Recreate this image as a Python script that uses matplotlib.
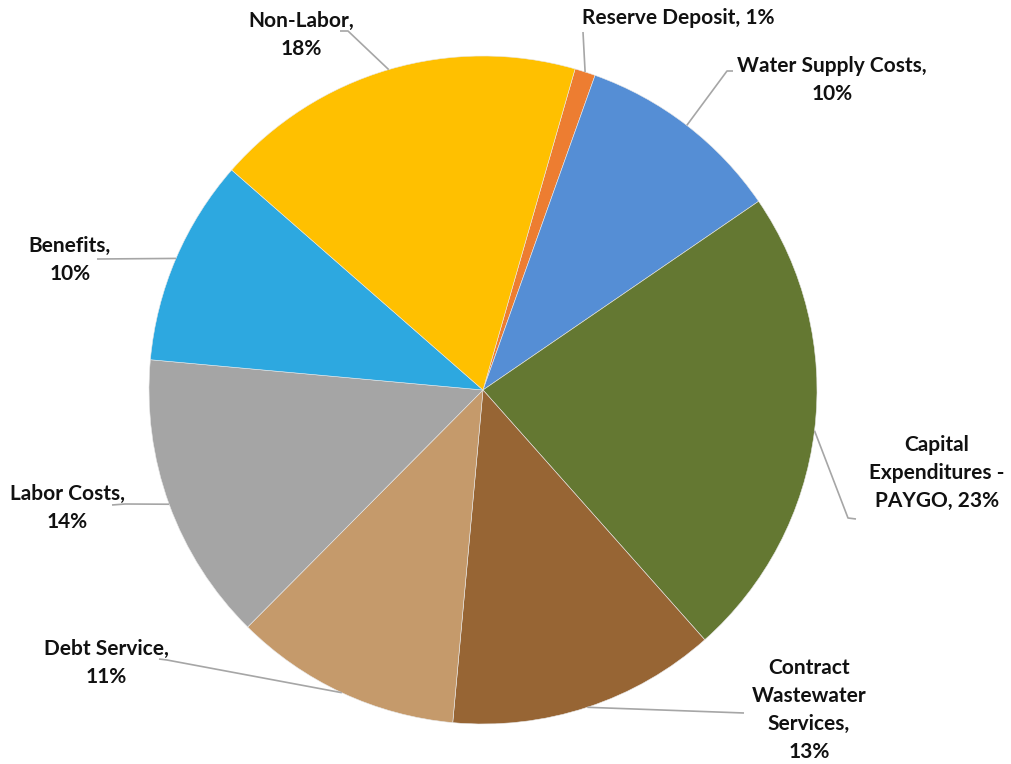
import numpy as np
import matplotlib
matplotlib.use('Agg')
import matplotlib.pyplot as plt

# Budget breakdown, slices listed clockwise from the top
categories = ['Reserve Deposit', 'Water Supply Costs', 'Capital Expenditures - PAYGO',
              'Contract Wastewater Services', 'Debt Service', 'Labor Costs',
              'Benefits', 'Non-Labor']
values = [1, 10, 23, 13, 11, 14, 10, 18]
colors = ['#ED7D31', '#558ED5', '#647832', '#976534',
          '#C59A6B', '#A5A5A5', '#2DA8E0', '#FFC000']

# label text as it is wrapped on the chart
label_texts = ['Reserve Deposit, 1%', 'Water Supply Costs,\n10%',
               'Capital\nExpenditures -\nPAYGO, 23%',
               'Contract\nWastewater\nServices,\n13%', 'Debt Service,\n11%',
               'Labor Costs,\n14%', 'Benefits,\n10%', 'Non-Labor,\n18%']

W, H = 1011, 764
CX, CY, R = 483, 390, 334
START = 16  # degrees clockwise from 12 o'clock where the first slice begins


def py(y):
    # pixel row (top down) -> data y (bottom up)
    return H - y


fig = plt.figure(figsize=(W / 100, H / 100), dpi=100)
ax = fig.add_axes([0, 0, 1, 1])

wedges, _ = ax.pie(values, colors=colors, startangle=90 - START, counterclock=False,
                   center=(CX, py(CY)), radius=R, frame=True,
                   wedgeprops=dict(edgecolor='#e8e8e8', linewidth=0.4))
ax.set_xlim(0, W)
ax.set_ylim(0, H)
ax.set_aspect('equal')
ax.axis('off')

# label placement: (x, y) of text centre, alignment, leader points near the text
label_pos = [(582, 18, 'left'), (832, 80, 'center'), (937, 473, 'center'),
             (809, 710, 'center'), (106, 663, 'center'), (67, 508, 'center'),
             (70, 260, 'center'), (301, 35, 'center')]
leader_pts = [[(583, 32)], [(733, 71), (727, 71)], [(856, 519), (848, 518)],
              [(744, 713)], [(159, 659), (167, 660)], [(112, 505), (125, 504)],
              [(97, 259)], [(340, 31), (348, 31)]]

for w, txt, (tx, ty, ha), pts in zip(wedges, label_texts, label_pos, leader_pts):
    mid = np.deg2rad((w.theta1 + w.theta2) / 2)
    ex = CX + R * np.cos(mid)
    ey = py(CY) + R * np.sin(mid)
    xs = [p[0] for p in pts] + [ex]
    ys = [py(p[1]) for p in pts] + [ey]
    ax.plot(xs, ys, color='#A6A6A6', lw=1.2, solid_capstyle='butt')
    ax.text(tx, py(ty), txt, ha=ha, va='center', fontsize=15, fontweight='bold',
            family=['Lato', 'DejaVu Sans'], color='#111111', linespacing=1.52,
            multialignment='center')

fig.savefig('out.png', dpi=100, facecolor='white')
